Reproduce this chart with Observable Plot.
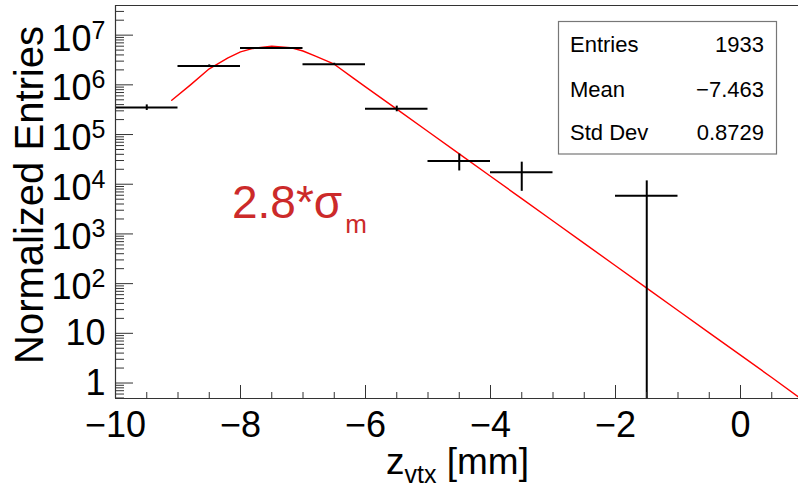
<!DOCTYPE html>
<html><head><meta charset="utf-8">
<script src="https://cdn.jsdelivr.net/npm/d3@7"></script>
<script src="https://cdn.jsdelivr.net/npm/@observablehq/plot@0.6"></script>
<style>body{margin:0;background:#fff;} svg{display:block}</style>
</head><body><div id="chart"></div>
<script>
// ---- data ----
const binLow = [-10, -9, -8, -7, -6, -5, -4, -2];
const binWidth = 1;
const binValues = [3.5e5, 2.4e6, 5.5e6, 2.6e6, 3.3e5, 2.95e4, 1.75e4, 5.84e3];
const binErrors = [4.5e4, 1.2e5, 1.8e5, 1.2e5, 4.3e4, 1.1e4, 1.03e4, 5.84e3];
const fitX = [-9.1, -8.8, -8.5, -8.2, -8.0, -7.8, -7.5, -7.2, -7.0, -6.8, -6.5, -6.2, -6.0, -5.5, -5.0, -4.5, -4.0, -3.5, -3.0, -2.5, -2.0, -1.5, -1.0, -0.5, 0, 0.5, 0.93];
const fitY = [4.9e5, 1.0e6, 2.1e6, 3.5e6, 4.6e6, 5.4e6, 6.0e6, 5.6e6, 4.8e6, 3.8e6, 2.6e6, 1.38e6, 9.1e5, 3.24e5, 1.15e5, 4.07e4, 1.45e4, 5.13e3, 1.82e3, 646, 229, 81, 28.8, 10.2, 3.63, 1.29, 0.52];
const xMajor = [-10, -8, -6, -4, -2, 0];
const yMajor = [1, 10, 100, 1e3, 1e4, 1e5, 1e6, 1e7];
const statLabels = ["Entries", "Mean", "Std Dev"];
const statValues = ["1933", "\u22127.463", "0.8729"];
const xTitle = ["z", "vtx", " [mm]"];
const yTitle = "Normalized Entries";
const annot = ["2.8*\u03c3", "m"];

// ---- layout ----
const W = 798, H = 487, mL = 115, mR = 0, mT = 5, mB = 89;
const plotW = W - mL - mR, plotH = H - mT - mB;
const xDomain = [-10, 0.928];
const yDomain = [0.488, 3.95e7];
const FONT = "'Liberation Sans', Arial, sans-serif";

const xMinor = d3.range(-10, 0.95, 0.5).filter(v => !xMajor.includes(v));
const yMinor = [];
for (let e = -1; e <= 7; e++) for (let m = 2; m <= 9; m++) {
  const v = m * Math.pow(10, e);
  if (v >= yDomain[0] && v <= yDomain[1]) yMinor.push(v);
}

const bins = binLow.map((lo, i) => ({lo, hi: lo + binWidth, c: lo + binWidth / 2, v: binValues[i], e: binErrors[i]}));
const fit = fitX.map((x, i) => ({x, y: fitY[i]}));
const axisColor = "#333";

const chart = Plot.plot({
  width: W, height: H, marginLeft: mL, marginRight: mR, marginTop: mT, marginBottom: mB,
  style: {fontFamily: FONT, background: "white", color: "#000"},
  x: {domain: xDomain},
  y: {type: "log", domain: yDomain},
  marks: [
    Plot.line(fit, {x: "x", y: "y", stroke: "#f00", strokeWidth: 1.4, clip: true}),
    Plot.ruleY(bins, {y: "v", x1: "lo", x2: "hi", stroke: "#000", strokeWidth: 2}),
    Plot.ruleX(bins, {x: "c", y1: d => Math.max(d.v - d.e, yDomain[0]), y2: d => d.v + d.e, stroke: "#000", strokeWidth: 2}),
    Plot.tickY(yMajor, {y: d => d, insetRight: plotW - 18, stroke: axisColor}),
    Plot.tickY(yMinor, {y: d => d, insetRight: plotW - 9, stroke: axisColor}),
    Plot.tickX(xMajor, {x: d => d, insetTop: plotH - 13, stroke: axisColor}),
    Plot.tickX(xMinor, {x: d => d, insetTop: plotH - 6, stroke: axisColor}),
    Plot.ruleX([xDomain[0]], {stroke: axisColor, strokeWidth: 1.2}),
    Plot.ruleY([yDomain[0]], {stroke: axisColor, strokeWidth: 1.2}),
    Plot.ruleY([yDomain[1]], {stroke: axisColor, strokeWidth: 1.2}),
    Plot.axisX({ticks: xMajor, tickSize: 0, tickPadding: 13, fontSize: 36, label: null,
      tickFormat: d => d < 0 ? "\u2212" + (-d) : String(d)}),
    Plot.axisY({ticks: yMajor, tickSize: 0, tickPadding: 10, fontSize: 36, label: null,
      tickFormat: d => { const e = Math.round(Math.log10(d)); return e === 0 ? "1" : e === 1 ? "10" : "10^" + e; }})
  ]
});
document.getElementById("chart").appendChild(chart);

const svg = d3.select(chart);
// superscripts on log tick labels
svg.selectAll("text").each(function() {
  const t = d3.select(this);
  const s = t.text();
  if (s.startsWith("10^")) {
    const exp = s.slice(3);
    t.text("");
    t.append("tspan").attr("dy", "4").text("10");
    t.append("tspan").attr("font-size", 25).attr("dy", -12).text(exp);
  }
});

// y-axis title
svg.append("text")
  .attr("transform", "translate(43,195) rotate(-90)")
  .attr("text-anchor", "middle").attr("font-size", 40)
  .attr("font-family", FONT)
  .text(yTitle);

// x-axis title
const xt = svg.append("text").attr("x", 386).attr("y", 474).attr("text-anchor", "start")
  .attr("font-size", 37).attr("font-family", FONT);
xt.append("tspan").text(xTitle[0]);
xt.append("tspan").attr("font-size", 25).attr("dy", 9).text(xTitle[1]);
xt.append("tspan").attr("dy", -9).text(xTitle[2]);

// annotation
const an = svg.append("text").attr("x", 232).attr("y", 218).attr("text-anchor", "start")
  .attr("font-size", 46).attr("fill", "#cc2a2a").attr("font-family", FONT);
an.append("tspan").text(annot[0]);
an.append("tspan").attr("font-size", 26).attr("dx", 3).attr("dy", 15).text(annot[1]);

// stats box
const sb = svg.append("g").attr("font-family", FONT).attr("font-size", 22).attr("text-anchor", "start");
sb.append("rect").attr("x", 558.5).attr("y", 21.5).attr("width", 218).attr("height", 132.5)
  .attr("fill", "white").attr("stroke", "#777").attr("stroke-width", 1.2);
const baselines = [51.5, 97, 140];
statLabels.forEach((l, i) => {
  sb.append("text").attr("x", 570).attr("y", baselines[i]).attr("text-anchor", "start").text(l);
  sb.append("text").attr("x", 764).attr("y", baselines[i]).attr("text-anchor", "end").text(statValues[i]);
});
</script>
</body></html>
